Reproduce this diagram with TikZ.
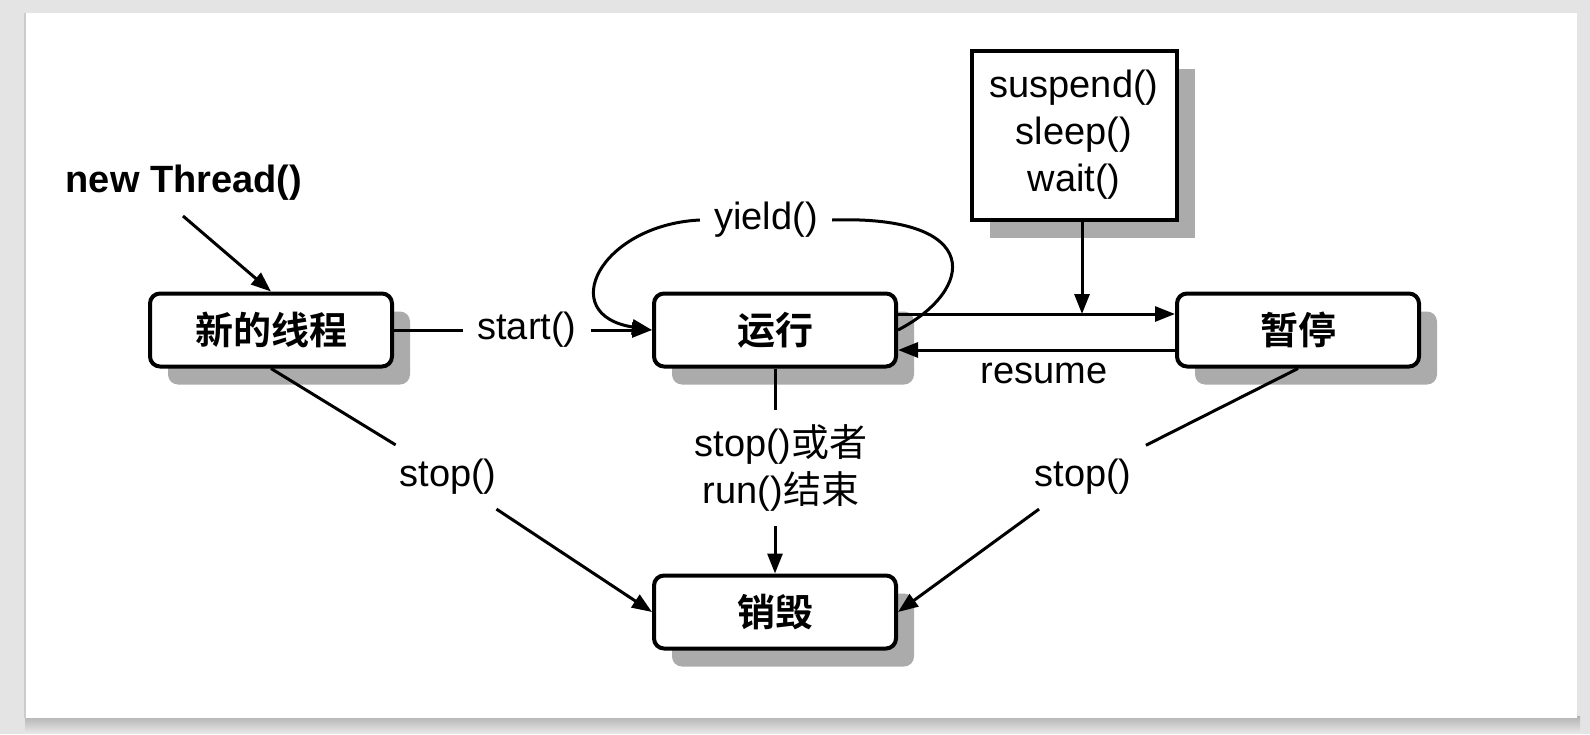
\documentclass[tikz,border=0pt]{standalone}
\usepackage{fontspec}
\setmainfont{Liberation Sans}
\newfontfamily\cjk[BoldFont={* Bold}]{Noto Sans CJK SC}
\usepackage{tikz}
\usetikzlibrary{arrows.meta,calc,shadows}
\definecolor{bgray}{HTML}{E4E4E4}
\definecolor{boxshade}{HTML}{ABABAB}

\begin{document}
\begin{tikzpicture}[x=0.5pt,y=0.5pt,yscale=-1,xscale=1,
  every node/.style={font=\fontsize{19}{23.5}\selectfont},
  state/.style={draw,line width=2pt,rounded corners=5pt,fill=white,minimum width=121pt,minimum height=36.5pt,inner sep=0pt,
    font=\fontsize{19}{23.5}\selectfont\cjk\bfseries,
    drop shadow={shadow xshift=9pt,shadow yshift=-9pt,fill=boxshade,opacity=1}},
  methbox/.style={draw,line width=2pt,fill=white,minimum width=102.5pt,minimum height=84.5pt,align=center,
    drop shadow={shadow xshift=9pt,shadow yshift=-9pt,fill=boxshade,opacity=1}},
  lbl/.style={inner sep=7pt},
  conn/.style={line width=1.5pt},
  arr/.style={line width=1.5pt,-{Triangle[length=10pt,width=7.5pt]}}]
  %uncomment if require: \path (0,734); %set diagram left start at 0, and has height of 734
  \useasboundingbox (0,0) rectangle (1590,734);

  % Page
  \fill[bgray] (0,0) rectangle (1590,734);
  \shade[top color=gray!60,bottom color=bgray] (25,716) rectangle (1580,732);
  \fill[white] (25,13) rectangle (1577,718);
  \draw[gray!40,line width=1pt] (25,13) -- (25,718);

  %Rounded Rect
  \node[state] (nt) at (271,330) {新的线程};
  %Rounded Rect
  \node[state] (run) at (775,330) {运行};
  %Rounded Rect
  \node[state] (pause) at (1298,330) {暂停};
  %Rounded Rect
  \node[state] (kill) at (775,612) {销毁};
  %Rect
  \node[methbox] (meth) at (1074,135) {suspend()\\sleep()\\wait()};

  % Text Node
  \node[font=\fontsize{19}{23.5}\selectfont\bfseries] (newthr) at (184,183) {new Thread()};
  % Text Node
  \node[lbl] (lstart) at (527,330) {start()};
  % Text Node
  \node[lbl] (lyield) at (766,220) {yield()};
  % Text Node
  \node[lbl] (lresume) at (1044,373) {resume};
  % Text Node
  \node[lbl] (lstop1) at (448,477) {stop()};
  % Text Node
  \node[lbl] (lstop2) at (1083,477) {stop()};
  % Text Node
  \node[lbl,align=center] (lrun) at (781,468) {stop(){\cjk 或者}\\run(){\cjk 结束}};

  \coordinate (ntin) at (183,216);
  \coordinate (susp) at (1082,314);

  %Straight Lines
  \draw[arr] (ntin) -- (nt.north);
  \draw[conn] (nt.east) -- (lstart.west);
  \draw[arr] (lstart.east) -- (run.west);
  %Curve Lines
  \draw[arr] (lyield.west) .. controls (600,225) and (555,315) .. (run.west);
  \draw[conn] (run.east) .. controls (975,290) and (985,215) .. (lyield.east);
  %Straight Lines
  \draw[arr] ($(run.east)+(0,-16)$) -- ($(pause.west)+(0,-16)$);
  \draw[arr] ($(pause.west)+(0,20)$) -- ($(run.east)+(0,20)$);
  \draw[arr] (meth.south -| susp) -- (susp);
  \draw[conn] (run.south) -- (run.south |- lrun.north);
  \draw[arr] (kill.north |- lrun.south) -- (kill.north);
  \draw[conn] (nt.south) -- (lstop1);
  \draw[arr] (lstop1) -- (kill.west);
  \draw[conn] (pause.south) -- (lstop2);
  \draw[arr] (lstop2) -- (kill.east);
\end{tikzpicture}
\end{document}
